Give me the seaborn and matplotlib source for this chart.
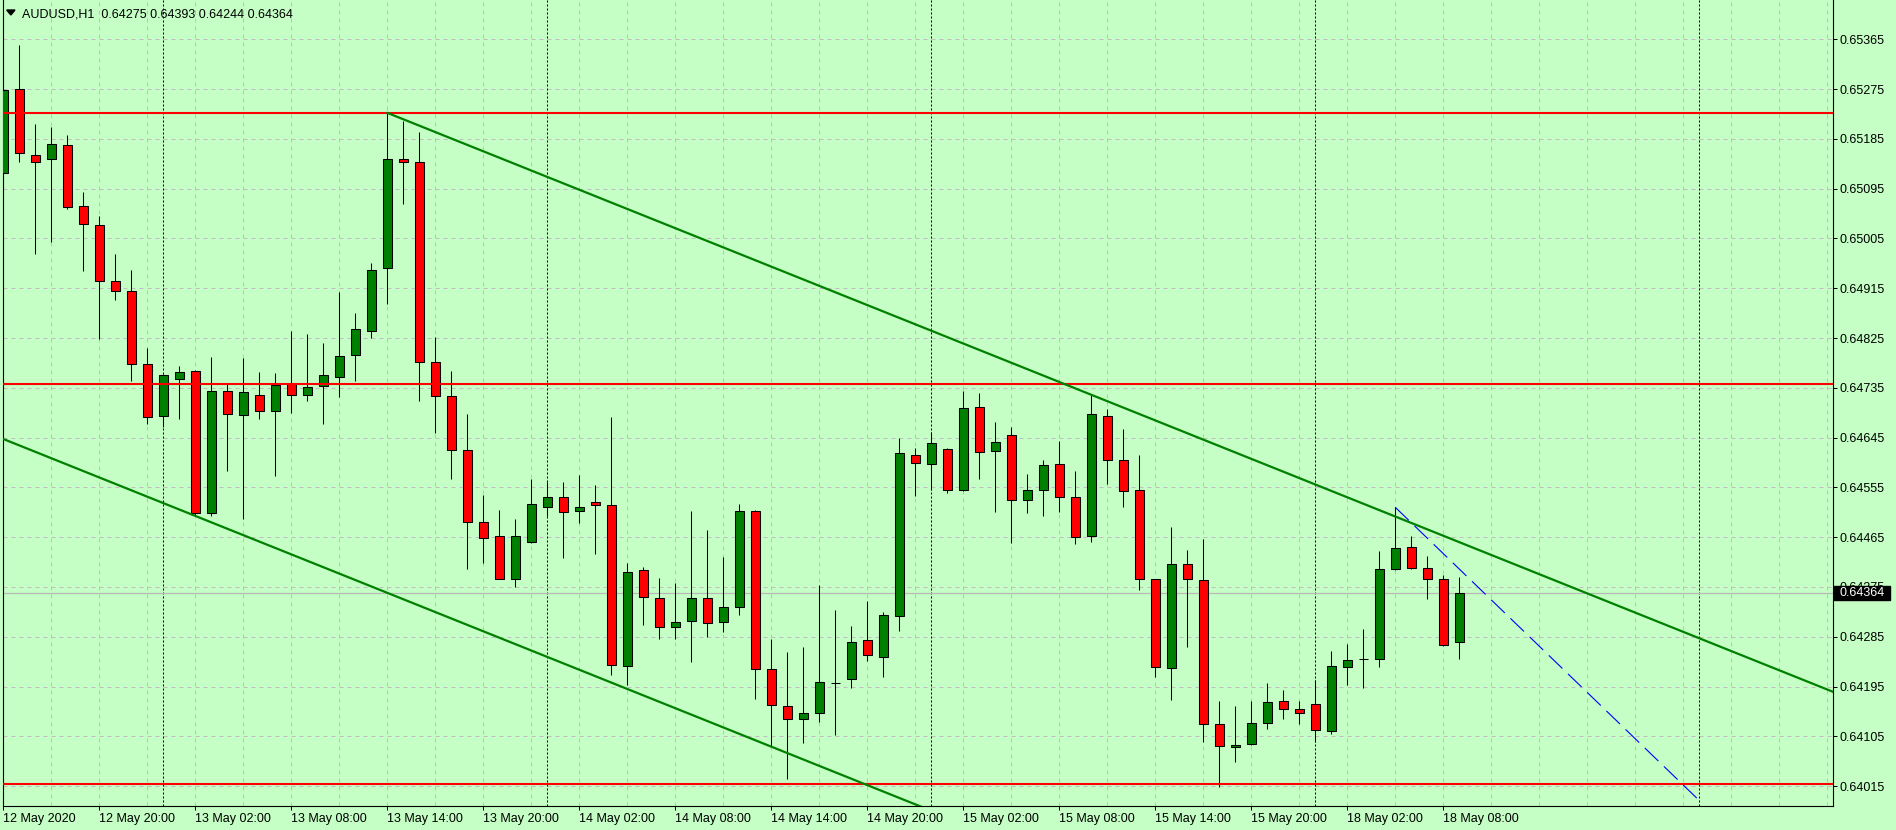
import numpy as np
import pandas as pd
import seaborn as sns
import matplotlib.pyplot as plt
from matplotlib.patches import Polygon, Rectangle

# AUDUSD H1 bars, 12 May 14:00 .. 18 May 09:00
opens = [0.65123, 0.65275, 0.65155, 0.65148, 0.65173, 0.65063, 0.65029, 0.64928, 0.64910, 0.64778,
         0.64684, 0.64751, 0.64765, 0.64508, 0.64729, 0.64686, 0.64722, 0.64693, 0.64742, 0.64722,
         0.64738, 0.64754, 0.64794, 0.64837, 0.64951, 0.65149, 0.65143, 0.64781, 0.64720, 0.64622,
         0.64493, 0.64467, 0.64390, 0.64456, 0.64519, 0.64537, 0.64512, 0.64528, 0.64523, 0.64232,
         0.64405, 0.64355, 0.64302, 0.64313, 0.64355, 0.64311, 0.64339, 0.64512, 0.64227, 0.64160,
         0.64136, 0.64147, 0.64202, 0.64209, 0.64279, 0.64248, 0.64322, 0.64613, 0.64597, 0.64624,
         0.64550, 0.64700, 0.64621, 0.64649, 0.64532, 0.64550, 0.64597, 0.64537, 0.64467, 0.64684,
         0.64604, 0.64550, 0.64389, 0.64228, 0.64416, 0.64387, 0.64127, 0.64086, 0.64091, 0.64129,
         0.64169, 0.64154, 0.64163, 0.64115, 0.64230, 0.64245, 0.64245, 0.64407, 0.64447, 0.64409,
         0.64389, 0.64275]
highs = [0.65280, 0.65355, 0.65212, 0.65207, 0.65192, 0.65089, 0.65046, 0.64977, 0.64948, 0.64807,
         0.64760, 0.64775, 0.64767, 0.64791, 0.64744, 0.64789, 0.64763, 0.64762, 0.64838, 0.64832,
         0.64816, 0.64908, 0.64870, 0.64960, 0.65232, 0.65218, 0.65197, 0.64827, 0.64766, 0.64688,
         0.64542, 0.64514, 0.64498, 0.64570, 0.64565, 0.64565, 0.64578, 0.64560, 0.64682, 0.64419,
         0.64411, 0.64392, 0.64383, 0.64512, 0.64478, 0.64430, 0.64525, 0.64514, 0.64280, 0.64258,
         0.64267, 0.64379, 0.64334, 0.64305, 0.64350, 0.64330, 0.64644, 0.64626, 0.64655, 0.64626,
         0.64729, 0.64725, 0.64674, 0.64664, 0.64579, 0.64604, 0.64639, 0.64584, 0.64722, 0.64696,
         0.64660, 0.64613, 0.64390, 0.64484, 0.64442, 0.64462, 0.64169, 0.64159, 0.64168, 0.64202,
         0.64189, 0.64169, 0.64207, 0.64259, 0.64272, 0.64299, 0.64440, 0.64519, 0.64467, 0.64431,
         0.64396, 0.64393]
lows = [0.65081, 0.65144, 0.64976, 0.64998, 0.65059, 0.64947, 0.64824, 0.64894, 0.64748, 0.64669,
        0.64665, 0.64678, 0.64505, 0.64504, 0.64584, 0.64498, 0.64679, 0.64575, 0.64690, 0.64712,
        0.64669, 0.64719, 0.64748, 0.64825, 0.64887, 0.65068, 0.64712, 0.64654, 0.64571, 0.64407,
        0.64419, 0.64389, 0.64374, 0.64454, 0.64504, 0.64428, 0.64491, 0.64434, 0.64216, 0.64197,
        0.64307, 0.64280, 0.64280, 0.64240, 0.64284, 0.64293, 0.64325, 0.64172, 0.64087, 0.64027,
        0.64092, 0.64130, 0.64108, 0.64193, 0.64242, 0.64213, 0.64295, 0.64539, 0.64550, 0.64544,
        0.64548, 0.64571, 0.64511, 0.64455, 0.64508, 0.64504, 0.64511, 0.64452, 0.64457, 0.64561,
        0.64519, 0.64369, 0.64212, 0.64170, 0.64267, 0.64094, 0.64014, 0.64058, 0.64089, 0.64118,
        0.64136, 0.64127, 0.64094, 0.64109, 0.64197, 0.64192, 0.64231, 0.64405, 0.64407, 0.64353,
        0.64268, 0.64244]
closes = [0.65273, 0.65159, 0.65143, 0.65175, 0.65061, 0.65031, 0.64928, 0.64910, 0.64778, 0.64682,
          0.64758, 0.64763, 0.64508, 0.64729, 0.64687, 0.64727, 0.64693, 0.64740, 0.64722, 0.64736,
          0.64758, 0.64792, 0.64841, 0.64948, 0.65149, 0.65143, 0.64781, 0.64720, 0.64622, 0.64493,
          0.64464, 0.64390, 0.64467, 0.64525, 0.64537, 0.64510, 0.64519, 0.64523, 0.64233, 0.64402,
          0.64356, 0.64302, 0.64311, 0.64355, 0.64310, 0.64339, 0.64512, 0.64227, 0.64162, 0.64136,
          0.64147, 0.64203, 0.64202, 0.64275, 0.64252, 0.64324, 0.64617, 0.64599, 0.64635, 0.64550,
          0.64698, 0.64619, 0.64637, 0.64532, 0.64550, 0.64595, 0.64537, 0.64465, 0.64687, 0.64604,
          0.64548, 0.64389, 0.64230, 0.64416, 0.64389, 0.64127, 0.64087, 0.64089, 0.64129, 0.64167,
          0.64154, 0.64147, 0.64116, 0.64232, 0.64243, 0.64245, 0.64407, 0.64445, 0.64409, 0.64389,
          0.64270, 0.64364]

time_labels = ["12 May 2020", "12 May 20:00", "13 May 02:00", "13 May 08:00", "13 May 14:00",
               "13 May 20:00", "14 May 02:00", "14 May 08:00", "14 May 14:00", "14 May 20:00",
               "15 May 02:00", "15 May 08:00", "15 May 14:00", "15 May 20:00", "18 May 02:00",
               "18 May 08:00"]
label_bars = list(range(0, 91, 6))
day_starts = [10, 34, 58, 82, 106]
price_ticks = [round(0.64015 + 0.0009 * k, 5) for k in range(16)]

levels = [0.65232, 0.64742, 0.64019]
upper_x, upper_y = [24, 115], [0.65232, 0.64178]
lower_x, lower_y = [-1, 115], [0.64654, 0.63310]
fan_x, fan_y = [87, 106], [0.64519, 0.63989]

BG = "#C5FFC5"
GRID = "#C4BCC4"
W, H = 1896, 830

sns.set_style("ticks", {"axes.facecolor": BG, "figure.facecolor": BG,
                        "axes.edgecolor": "black"})
plt.rcParams["font.family"] = ["Liberation Sans", "DejaVu Sans"]
plt.rcParams["font.size"] = 9

fig = plt.figure(figsize=(W / 100, H / 100), dpi=100)
ax = fig.add_axes([2.5 / W, 24 / H, (1833 - 2.5) / W, 806 / H])

df = pd.DataFrame({"open": opens, "high": highs, "low": lows, "close": closes})
df["bar"] = np.arange(len(df))

# grid
for p in price_ticks:
    ax.axhline(p, color=GRID, lw=0.72, ls=(0, (4, 4)), zorder=0)
for b in range(0, 115, 3):
    ax.axvline(b, color=GRID, lw=0.72, ls=(0, (4, 4)), zorder=0)
for d in day_starts:
    ax.axvline(d, color="black", lw=0.72, ls=(0, (2, 2)), zorder=1)

# bid line
ax.axhline(closes[-1], color="#B8B8B8", lw=0.9, zorder=1)

# candles
colors = np.where(df.close > df.open, "#008000", np.where(df.close < df.open, "#FF0000", "black"))
ax.vlines(df.bar, df.low, df.high, color="black", lw=0.75, zorder=2)
ax.bar(df.bar, df.close - df.open, bottom=df.open, width=0.57, color=colors,
       edgecolor="black", linewidth=0.75, zorder=3)

# objects
for lv in levels:
    ax.axhline(lv, color="#FF0000", lw=1.5, zorder=4)
sns.lineplot(x=upper_x, y=upper_y, ax=ax, color="#008000", lw=1.6, zorder=4)
sns.lineplot(x=lower_x, y=lower_y, ax=ax, color="#008000", lw=1.6, zorder=4)
sns.lineplot(x=fan_x, y=fan_y, ax=ax, color="#0000FF", lw=0.8, ls=(0, (17, 7)), zorder=4)

ax.set_xlim(-0.05, 114.36)
ax.set_ylim(0.63979, 0.65436)
ax.set_xticks(label_bars)
ax.set_xticklabels(time_labels, ha="left")
ax.yaxis.tick_right()
ax.set_yticks(price_ticks)
ax.set_yticklabels([f"{p:.5f}" for p in price_ticks])
ax.tick_params(axis="x", length=3, width=0.72, pad=2, colors="black", labelsize=9)
ax.tick_params(axis="y", length=3, width=0.72, pad=1.5, colors="black", labelsize=9)
ax.set_xlabel("")
ax.set_ylabel("")
ax.spines["top"].set_visible(False)
for s in ["left", "right", "bottom"]:
    ax.spines[s].set_linewidth(0.8)

# header
fig.add_artist(Polygon([(6.7 / W, 1 - 10 / H), (15 / W, 1 - 10 / H), (10.85 / W, 1 - 15 / H)],
                       closed=True, color="black", transform=fig.transFigure))
fig.text(21.7 / W, 1 - 17.3 / H,
         f"AUDUSD,H1  {opens[-1]:.5f} {highs[-1]:.5f} {lows[-1]:.5f} {closes[-1]:.5f}",
         va="baseline", ha="left", fontsize=9, color="black")

# current price label
fig.add_artist(Rectangle((1834 / W, 1 - 600 / H), 56 / W, 14 / H, color="black",
                         transform=fig.transFigure))
fig.text(1839 / W, 1 - 593 / H, f"{closes[-1]:.5f}", va="center", ha="left",
         fontsize=9, color="white")

fig.savefig("out.png", dpi=100)
